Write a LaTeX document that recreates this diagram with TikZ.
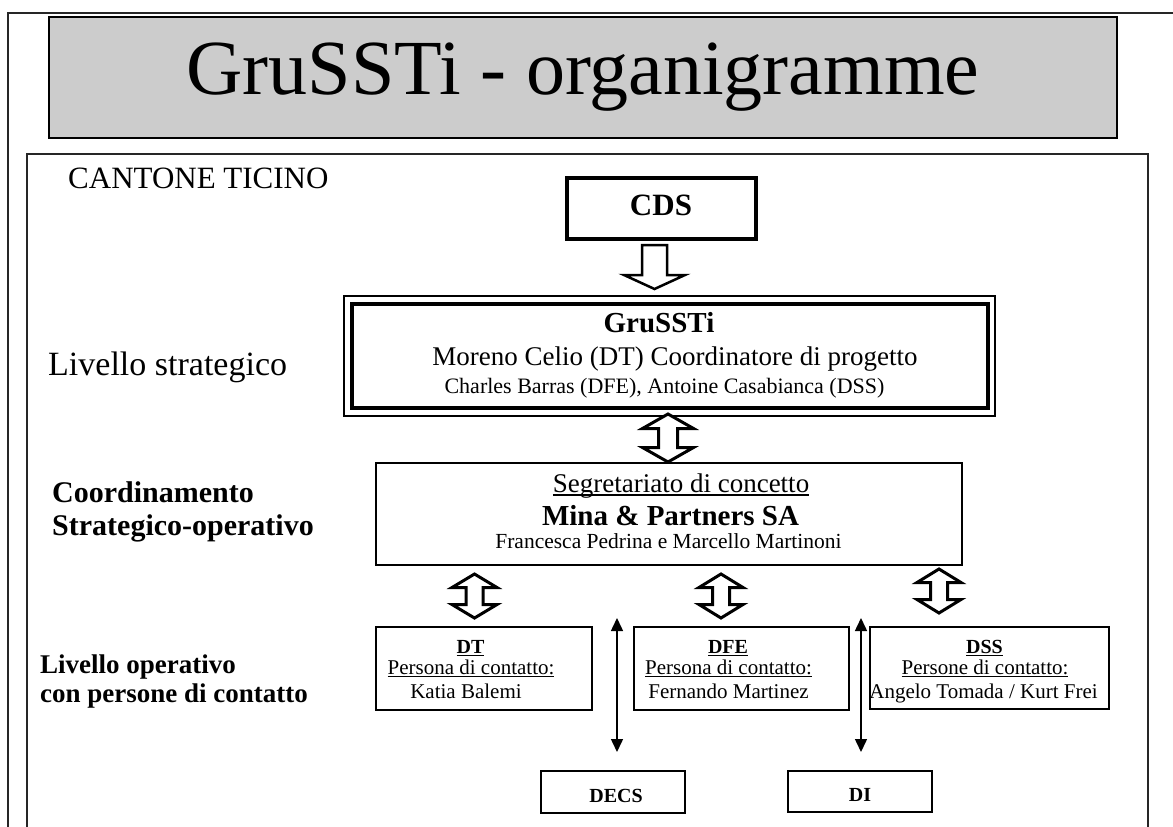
\documentclass[tikz,border=0pt]{standalone}
\usepackage{fontspec}
\setmainfont{Liberation Serif}
\usetikzlibrary{arrows.meta}
\newcommand{\fsz}[1]{\fontsize{#1}{#1}\selectfont}
\newcommand{\myul}[1]{\setbox0\hbox{#1}\rlap{\rule[-0.13em]{\wd0}{0.05em}}\box0}
% hollow up-down block arrow: x, top, bottom, head half width, stem half width, head length
\newcommand{\udarrow}[6]{%
  \draw[hollow] (#1,#2) -- ++(#4,#6) -- ({#1+#5},{#2+#6}) -- ({#1+#5},{#3-#6}) -- ({#1+#4},{#3-#6})
    -- (#1,#3) -- ({#1-#4},{#3-#6}) -- ({#1-#5},{#3-#6}) -- ({#1-#5},{#2+#6}) -- ({#1-#4},{#2+#6}) -- cycle;}
\begin{document}
\begin{tikzpicture}[x=1pt,y=-1pt,
  box/.style={draw=black, line width=1.3, inner sep=0, fill=white},
  txt/.style={inner sep=0, anchor=base},
  ltxt/.style={inner sep=0, anchor=base west},
  hollow/.style={draw=black, fill=white, line width=3, line join=miter},
  thinarr/.style={{Triangle[length=13pt,width=12pt]}-{Triangle[length=13pt,width=12pt]}, line width=1.5},
  frame/.style={draw=black!85, line width=1.5}]
\useasboundingbox (0,0) rectangle (1173,827);
% frames
\draw[frame] (1173,13) -- (8,13) -- (8,827);
\draw[frame] (27,827) -- (27,154) -- (1148,154) -- (1148,827);
% title
\node[box, fill=black!20, line width=2, minimum width=1068, minimum height=121] (title) at (583,77.5) {};
\node[txt, font=\fsz{78}] (titletext) at (583,94) {GruSSTi - organigramme};
% left labels
\node[ltxt, font=\fsz{31}] (cantone) at (68,188) {CANTONE TICINO};
\node[ltxt, font=\fsz{34}] (livstrat) at (48,375) {Livello strategico};
\node[ltxt, font=\fsz{30}\bfseries] (coord1) at (52,502) {Coordinamento};
\node[ltxt, font=\fsz{30}\bfseries] (coord2) at (52,535) {Strategico-operativo};
\node[ltxt, font=\fsz{27}\bfseries] (livop1) at (40,673) {Livello operativo};
\node[ltxt, font=\fsz{27}\bfseries] (livop2) at (40,702) {con persone di contatto};
% CDS
\node[box, line width=3.5, minimum width=189, minimum height=61] (cds) at (661.5,208.5) {};
\node[txt, font=\fsz{31}\bfseries] (cdstext) at (661,215) {CDS};
% GruSSTi
\node[box, line width=4, minimum width=636, minimum height=104.5] (gru) at (669.5,355.75) {};
\draw[line width=1.2] ([shift={(-5.5,-5.5)}]gru.north west) rectangle ([shift={(5.5,6)}]gru.south east);
\node[txt, font=\fsz{29}\bfseries] (gru1) at (659,332) {GruSSTi};
\node[txt, font=\fsz{27}] (gru2) at (675,365) {Moreno Celio (DT) Coordinatore di progetto};
\node[txt, font=\fsz{22}] (gru3) at (664.5,393) {Charles Barras (DFE), Antoine Casabianca (DSS)};
% Segretariato
\node[box, minimum width=586, minimum height=102] (seg) at (669,514) {};
\node[txt, font=\fsz{27}] (seg1) at (681,492) {\myul{Segretariato di concetto}};
\node[txt, font=\fsz{29}\bfseries] (seg2) at (670.5,525) {Mina \& Partners SA};
\node[txt, font=\fsz{21.5}] (seg3) at (668.5,548) {Francesca Pedrina e Marcello Martinoni};
% operative boxes
\node[box, minimum width=216, minimum height=83] (dt) at (484,668.5) {};
\node[txt, font=\fsz{20}\bfseries] (dt1) at (470.5,653) {\myul{DT}};
\node[txt, font=\fsz{21}] (dt2) at (471,674) {\myul{Persona di contatto:}};
\node[txt, font=\fsz{21}] (dt3) at (466,698) {Katia Balemi};
\node[box, minimum width=215, minimum height=83] (dfe) at (741.5,668.5) {};
\node[txt, font=\fsz{20}\bfseries] (dfe1) at (728,653) {\myul{DFE}};
\node[txt, font=\fsz{21}] (dfe2) at (728.5,674) {\myul{Persona di contatto:}};
\node[txt, font=\fsz{21}] (dfe3) at (728.5,698) {Fernando Martinez};
\node[box, minimum width=239, minimum height=82] (dss) at (989.5,668) {};
\node[txt, font=\fsz{20}\bfseries] (dss1) at (984.5,653) {\myul{DSS}};
\node[txt, font=\fsz{21}] (dss2) at (985,674) {\myul{Persone di contatto:}};
\node[txt, font=\fsz{21}] (dss3) at (983.5,698) {Angelo Tomada / Kurt Frei};
% bottom boxes
\node[box, minimum width=144, minimum height=42] (decs) at (613,792) {};
\node[txt, font=\fsz{20}\bfseries] (decstext) at (616,802) {DECS};
\node[box, minimum width=144, minimum height=41] (di) at (860,791.5) {};
\node[txt, font=\fsz{20}\bfseries] (ditext) at (860,801) {DI};
% hollow arrow CDS -> GruSSTi
\draw[hollow, line width=2.5] (642,245) -- (667,245) -- (667,275) -- (685,275) -- (654.5,289) -- (624,275) -- (642,275) -- cycle;
% hollow up-down arrows
\udarrow{668}{414}{462}{25.5}{9.5}{14.5}
\udarrow{474.5}{574}{618}{22.5}{8.5}{13.5}
\udarrow{721}{574}{618}{22}{8.5}{13.5}
\udarrow{939}{569}{613}{22}{8.5}{13.5}
% thin double arrows
\coordinate (a1t) at (617,618);
\coordinate (a1b) at (617,752);
\coordinate (a2t) at (861,618);
\coordinate (a2b) at (861,752);
\draw[thinarr] (a1t) -- (a1b);
\draw[thinarr] (a2t) -- (a2b);
\end{tikzpicture}
\end{document}
